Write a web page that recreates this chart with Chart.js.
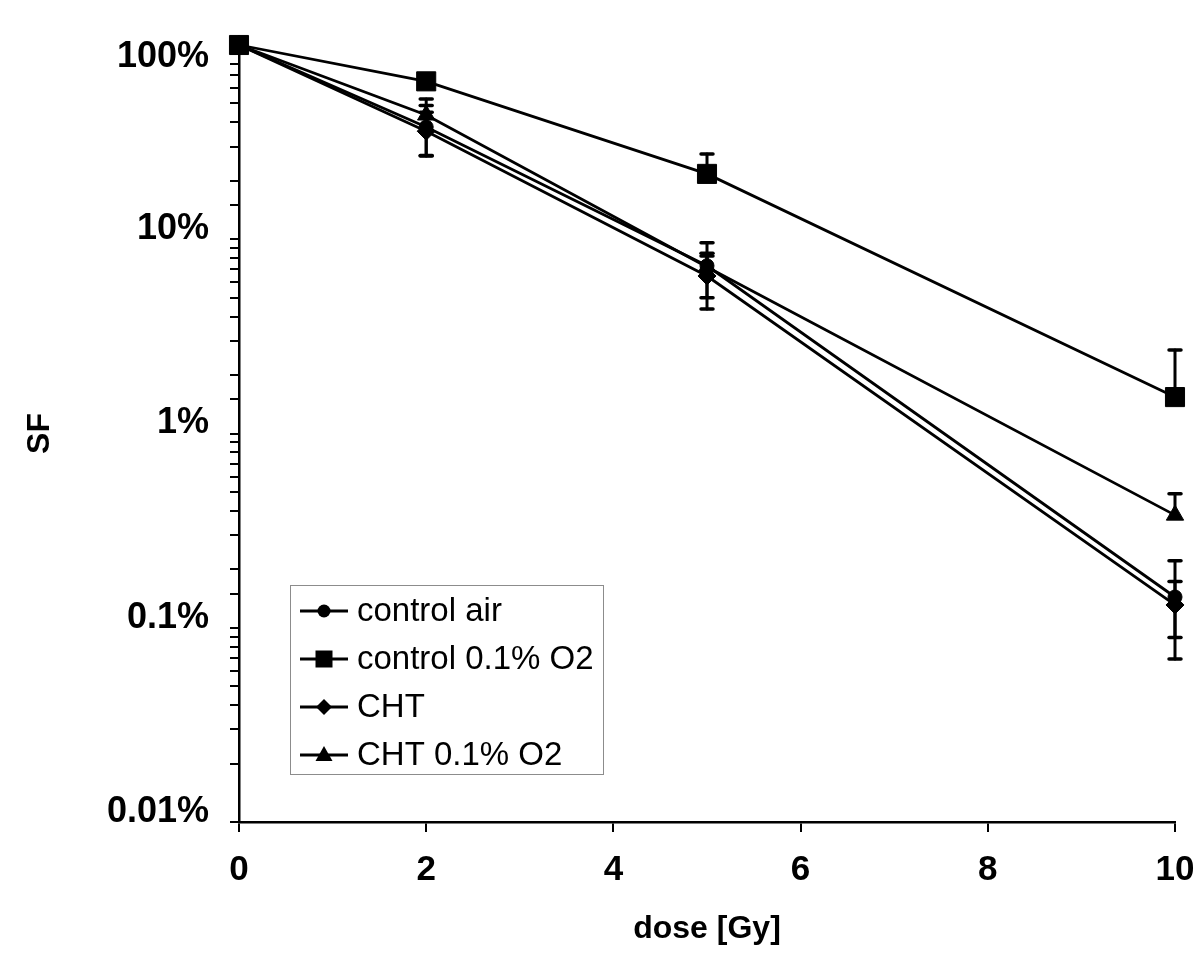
<!DOCTYPE html>
<html><head><meta charset="utf-8">
<script src="https://cdn.jsdelivr.net/npm/chart.js@4"></script>
<style>html,body{margin:0;padding:0;background:#fff}canvas{display:block}</style>
</head><body>
<canvas id="c" width="1200" height="971"></canvas>
<script>
const doses = [0, 2, 5, 10];
const seriesNames = ['control air', 'control 0.1% O2', 'CHT', 'CHT 0.1% O2'];
const controlAir = [100, 37.8, 7.3, 0.144];
const controlO2 = [100, 65, 21.7, 1.54];
const cht = [100, 36, 6.47, 0.131];
const chtO2 = [100, 43.6, 7.2, 0.38];
const controlAirErrPlus = [0, 11, 2.3, 0.077];
const controlAirErrMinus = [0, 11, 2.3, 0.075];
const controlO2ErrPlus = [0, 0, 5.8, 1.15];
const controlO2ErrMinus = [0, 0, 0, 0];
const chtErrPlus = [0, 9, 2.0, 0.042];
const chtErrMinus = [0, 9, 2.1, 0.042];
const chtO2ErrPlus = [0, 9.1, 1.0, 0.11];
const chtO2ErrMinus = [0, 0, 0, 0];
const yMajorValues = [0.01, 0.1, 1, 10, 100];
const yMajorLabels = ['0.01%', '0.1%', '1%', '10%', '100%'];
const xTickStep = 2;

const FONT = "'Liberation Sans', Arial, Helvetica, sans-serif";

function mk(label, data, style, radius, ep, em) {
  return {
    label,
    data: doses.map((d, i) => ({x: d, y: data[i]})),
    borderColor: '#000', backgroundColor: '#000', borderWidth: 2.8,
    pointStyle: style, pointRadius: radius, pointHoverRadius: radius,
    pointBorderWidth: 1, pointBackgroundColor: '#000', pointBorderColor: '#000',
    tension: 0, clip: false, errPlus: ep, errMinus: em
  };
}

const errorBarPlugin = {
  id: 'errbars',
  afterDatasetsDraw(chart) {
    const ctx = chart.ctx, xs = chart.scales.x, ys = chart.scales.y;
    ctx.save();
    ctx.strokeStyle = '#000';
    ctx.lineCap = 'round';
    chart.data.datasets.forEach(ds => {
      ds.data.forEach((p, i) => {
        const ep = ds.errPlus[i], em = ds.errMinus[i];
        if (!ep && !em) return;
        const x = xs.getPixelForValue(p.x);
        const yt = ys.getPixelForValue(p.y + ep);
        const yb = ys.getPixelForValue(Math.max(p.y - em, 1e-6));
        ctx.lineWidth = 3;
        ctx.beginPath(); ctx.moveTo(x, yt); ctx.lineTo(x, yb); ctx.stroke();
        ctx.lineWidth = 3.5;
        if (ep) { ctx.beginPath(); ctx.moveTo(x - 6, yt); ctx.lineTo(x + 6, yt); ctx.stroke(); }
        if (em) { ctx.beginPath(); ctx.moveTo(x - 6, yb); ctx.lineTo(x + 6, yb); ctx.stroke(); }
      });
    });
    ctx.restore();
  }
};

function drawMarker(ctx, style, x, y) {
  ctx.beginPath();
  if (style === 'circle') { ctx.arc(x, y, 6.5, 0, Math.PI * 2); }
  else if (style === 'rect') { ctx.rect(x - 8.5, y - 8.5, 17, 17); }
  else if (style === 'rectRot') { ctx.moveTo(x - 8, y); ctx.lineTo(x, y - 8); ctx.lineTo(x + 8, y); ctx.lineTo(x, y + 8); ctx.closePath(); }
  else if (style === 'triangle') { ctx.moveTo(x, y - 9); ctx.lineTo(x + 8.5, y + 6); ctx.lineTo(x - 8.5, y + 6); ctx.closePath(); }
  ctx.fill();
}

const legendPlugin = {
  id: 'boxLegend',
  afterDraw(chart) {
    const ctx = chart.ctx;
    ctx.save();
    ctx.strokeStyle = '#8c8c8c'; ctx.lineWidth = 1;
    ctx.strokeRect(290.5, 585.5, 313, 189);
    ctx.fillStyle = '#000'; ctx.strokeStyle = '#000';
    ctx.font = '33px ' + FONT;
    ctx.textBaseline = 'middle';
    chart.data.datasets.forEach((ds, i) => {
      const y = 611 + i * 48;
      ctx.lineWidth = 2.8;
      ctx.beginPath(); ctx.moveTo(300, y); ctx.lineTo(348, y); ctx.stroke();
      drawMarker(ctx, ds.pointStyle, 324, y);
      ctx.fillText(ds.label, 357, y + 1);
    });
    ctx.restore();
  }
};

new Chart(document.getElementById('c'), {
  type: 'line',
  data: {
    datasets: [
      mk(seriesNames[0], controlAir, 'circle', 7, controlAirErrPlus, controlAirErrMinus),
      mk(seriesNames[1], controlO2, 'rect', 13.5, controlO2ErrPlus, controlO2ErrMinus),
      mk(seriesNames[2], cht, 'rectRot', 9, chtErrPlus, chtErrMinus),
      mk(seriesNames[3], chtO2, 'triangle', 10, chtO2ErrPlus, chtO2ErrMinus)
    ]
  },
  options: {
    responsive: false, animation: false, devicePixelRatio: 1,
    layout: {padding: {top: 45, right: 25, left: 0, bottom: 0}},
    plugins: {legend: {display: false}, tooltip: {enabled: false}},
    scales: {
      x: {
        type: 'linear', min: 0, max: 10,
        ticks: {stepSize: xTickStep, color: '#000', padding: 17,
          font: {family: FONT, size: 35, weight: 'bold'}},
        grid: {drawOnChartArea: false, drawTicks: true, tickLength: 10, color: '#000', lineWidth: 2},
        border: {display: true, color: '#000', width: 2.5},
        title: {display: true, text: 'dose [Gy]', color: '#000',
          font: {family: FONT, size: 32, weight: 'bold'}, padding: {top: 0, bottom: 23}},
        afterFit: s => { s.height = 971 - 822; s.paddingLeft = 0; s.paddingRight = 0; }
      },
      y: {
        type: 'logarithmic', min: 0.01, max: 100,
        ticks: {
          autoSkip: false, color: '#000', padding: 21, labelOffset: -10,
          font: {family: FONT, size: 36, weight: 'bold'},
          callback: v => {
            const k = yMajorValues.findIndex(m => Math.abs(Math.log10(v) - Math.log10(m)) < 1e-6);
            if (k < 0) return '';
            return k === yMajorValues.length - 1 ? ['', yMajorLabels[k]] : yMajorLabels[k];
          }
        },
        grid: {drawOnChartArea: false, drawTicks: true, tickLength: 9, color: '#000', lineWidth: 2},
        border: {display: true, color: '#000', width: 2.5},
        title: {display: true, text: 'SF', color: '#000',
          font: {family: FONT, size: 32, weight: 'bold'}, padding: {top: 21, bottom: 0}},
        afterFit: s => { s.width = 239; s.paddingTop = 0; s.paddingBottom = 0; }
      }
    }
  },
  plugins: [errorBarPlugin, legendPlugin]
});
</script>
</body></html>
